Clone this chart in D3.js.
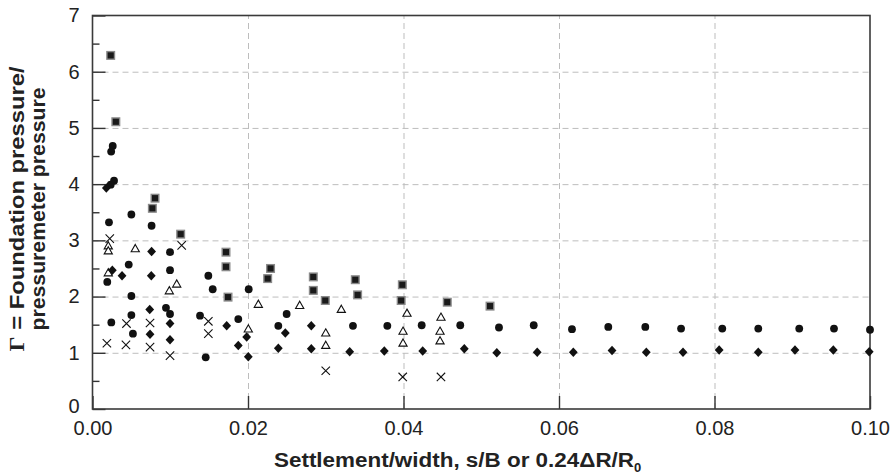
<!DOCTYPE html>
<html>
<head>
<meta charset="utf-8">
<script src="https://cdn.jsdelivr.net/npm/d3@7"></script>
<style>
  html, body { margin: 0; padding: 0; background: #fff; }
  svg { display: block; }
  text { font-family: "Liberation Sans", Arial, Helvetica, sans-serif; fill: #222; }
</style>
</head>
<body>
<svg id="chart" width="894" height="475"></svg>
<script>
// Settlement ratio (s/B) against pressure ratio Γ, one array per data group
const squares = [
  [0.00234, 6.29], [0.0030, 5.11], [0.00804, 3.75], [0.0077, 3.57], [0.01134, 3.11],
  [0.01717, 2.79], [0.01717, 2.53], [0.02253, 2.32], [0.0229, 2.50], [0.01743, 1.99],
  [0.0284, 2.35], [0.0284, 2.11], [0.02994, 1.93], [0.0338, 2.30], [0.0341, 2.03],
  [0.03985, 2.21], [0.0397, 1.93], [0.04563, 1.90], [0.05113, 1.83]
];
const circles = [
  [0.0026, 4.68], [0.0024, 4.58], [0.00277, 4.06], [0.00234, 3.99], [0.00212, 3.32],
  [0.0050, 3.46], [0.0076, 3.26], [0.00997, 2.79], [0.00466, 2.57], [0.00997, 2.47],
  [0.0019, 2.26], [0.0050, 2.01], [0.00945, 1.80], [0.00997, 1.69], [0.0050, 1.67],
  [0.00242, 1.54], [0.0052, 1.34], [0.0149, 2.37], [0.01546, 2.13], [0.02009, 2.13],
  [0.01383, 1.66], [0.01875, 1.60], [0.01456, 0.92], [0.02497, 1.69], [0.0239, 1.48],
  [0.0335, 1.48], [0.03792, 1.48], [0.04234, 1.49], [0.0473, 1.49], [0.05228, 1.45],
  [0.05675, 1.49], [0.06167, 1.42], [0.06634, 1.46], [0.0711, 1.46], [0.0757, 1.43],
  [0.081, 1.43], [0.08563, 1.43], [0.0909, 1.43], [0.09537, 1.43], [0.1, 1.41]
];
const diamonds = [
  [0.00178, 3.93], [0.0076, 2.80], [0.00255, 2.47], [0.0038, 2.37], [0.00756, 2.37],
  [0.00736, 1.77], [0.00997, 1.52], [0.0074, 1.33], [0.00997, 1.23], [0.01726, 1.48],
  [0.01983, 1.28], [0.01875, 1.13], [0.02004, 0.93], [0.0239, 1.08], [0.0248, 1.35],
  [0.02814, 1.48], [0.02814, 1.07], [0.03308, 1.02], [0.03753, 1.03], [0.04247, 1.03],
  [0.04782, 1.07], [0.052, 1.00], [0.0572, 1.01], [0.06184, 1.01], [0.06682, 1.04],
  [0.07123, 1.01], [0.07595, 1.01], [0.0806, 1.05], [0.08563, 1.01], [0.09035, 1.05],
  [0.09528, 1.05], [0.0999, 1.02]
];
const triangles = [
  [0.00203, 2.90], [0.00203, 2.81], [0.0055, 2.85], [0.00203, 2.42], [0.00988, 2.10],
  [0.01083, 2.22], [0.02133, 1.86], [0.02004, 1.42], [0.02665, 1.84], [0.032, 1.77],
  [0.030, 1.35], [0.030, 1.13], [0.04045, 1.70], [0.03994, 1.38], [0.03994, 1.17],
  [0.04482, 1.63], [0.0447, 1.38], [0.0447, 1.21]
];
const crosses = [
  [0.00222, 3.03], [0.01147, 2.91], [0.00437, 1.52], [0.0074, 1.53], [0.0149, 1.56],
  [0.0149, 1.34], [0.00185, 1.17], [0.0043, 1.14], [0.0074, 1.10], [0.00997, 0.95],
  [0.030, 0.68], [0.0399, 0.57], [0.04482, 0.57]
];

const xTicks = [0, 0.02, 0.04, 0.06, 0.08, 0.10];
const yTicks = [0, 1, 2, 3, 4, 5, 6, 7];
const yMinorTicks = [0.5, 1.5, 2.5, 3.5, 4.5, 5.5, 6.5];
const xTitle = "Settlement/width, s/B or 0.24ΔR/R";
const xTitleSub = "0";
const yTitleSymbol = "Γ";
const yTitleLines = [" = Foundation pressure/", "pressuremeter pressure"];

const margin = { left: 92.5, right: 24, top: 15.5, bottom: 66 };
const W = 894, H = 475;
const iw = W - margin.left - margin.right;
const ih = H - margin.top - margin.bottom;

const svg = d3.select("#chart");
const g = svg.append("g").attr("transform", `translate(${margin.left},${margin.top})`);

const x = d3.scaleLinear().domain([0, 0.10]).range([0, iw]);
const y = d3.scaleLinear().domain([0, 7]).range([ih, 0]);

// dashed grid
const gridX = g.append("g").attr("transform", `translate(0,${ih})`)
  .call(d3.axisBottom(x).tickValues(xTicks.slice(1, -1)).tickSize(-ih).tickFormat(""));
const gridY = g.append("g")
  .call(d3.axisLeft(y).tickValues(yTicks.slice(1, -1)).tickSize(-iw).tickFormat(""));
[gridX, gridY].forEach(s => {
  s.select(".domain").remove();
  s.selectAll("line").attr("stroke", "#bdbdbd").attr("stroke-width", 1).attr("stroke-dasharray", "6,4");
});

// axes with inward ticks
const xAxis = g.append("g").attr("transform", `translate(0,${ih})`)
  .call(d3.axisBottom(x).tickValues(xTicks).tickSize(-13).tickPadding(12).tickFormat(d3.format(".2f")));
const yAxis = g.append("g")
  .call(d3.axisLeft(y).tickValues(yTicks).tickSize(-13).tickPadding(13).tickFormat(d3.format("d")));
const yMinor = g.append("g")
  .call(d3.axisLeft(y).tickValues(yMinorTicks).tickSize(-7).tickFormat(""));
[xAxis, yAxis, yMinor].forEach(s => {
  s.select(".domain").remove();
  s.selectAll("line").attr("stroke", "#333").attr("stroke-width", 1.4);
  s.selectAll("text").style("font-size", "20px").attr("fill", "#222");
});
// the zero label sits a touch higher so it clears the x labels below
yAxis.selectAll(".tick").filter(d => d === 0).select("text").attr("dy", "0.18em");

// plot frame
g.append("rect").attr("x", 0).attr("y", 0).attr("width", iw).attr("height", ih)
  .attr("fill", "none").attr("stroke", "#3a3a3a").attr("stroke-width", 1.6);

// marker shapes
function diamondPath(r) {
  const p = d3.path();
  p.moveTo(0, -r * 1.08); p.lineTo(r, 0); p.lineTo(0, r * 1.08); p.lineTo(-r, 0); p.closePath();
  return p.toString();
}
function trianglePath(w) {
  const p = d3.path(), h = w * 0.88;
  p.moveTo(0, -h * 0.6); p.lineTo(w / 2, h * 0.4); p.lineTo(-w / 2, h * 0.4); p.closePath();
  return p.toString();
}
function crossPath(r) {
  const p = d3.path();
  p.moveTo(-r, -r); p.lineTo(r, r); p.moveTo(r, -r); p.lineTo(-r, r);
  return p.toString();
}

const marks = g.append("g");

marks.selectAll(".tri").data(triangles).join("path").attr("class", "tri")
  .attr("d", trianglePath(8.2))
  .attr("transform", d => `translate(${x(d[0])},${y(d[1])})`)
  .attr("fill", "#fff").attr("stroke", "#111").attr("stroke-width", 1.1);

marks.selectAll(".crs").data(crosses).join("path").attr("class", "crs")
  .attr("d", crossPath(4.2))
  .attr("transform", d => `translate(${x(d[0])},${y(d[1])})`)
  .attr("fill", "none").attr("stroke", "#111").attr("stroke-width", 1.1);

marks.selectAll(".sq").data(squares).join("rect").attr("class", "sq")
  .attr("x", d => x(d[0]) - 3.8).attr("y", d => y(d[1]) - 3.8)
  .attr("width", 7.6).attr("height", 7.6)
  .attr("fill", "#1a1a1a").attr("stroke", "#8a8a8a").attr("stroke-width", 1.4);

marks.selectAll(".cir").data(circles).join("circle").attr("class", "cir")
  .attr("cx", d => x(d[0])).attr("cy", d => y(d[1])).attr("r", 3.9)
  .attr("fill", "#111");

marks.selectAll(".dia").data(diamonds).join("path").attr("class", "dia")
  .attr("d", diamondPath(4.4))
  .attr("transform", d => `translate(${x(d[0])},${y(d[1])})`)
  .attr("fill", "#111");

// axis titles
const xt = svg.append("text")
  .attr("x", 274).attr("y", 467)
  .attr("text-anchor", "start")
  .style("font-size", "20px").style("font-weight", "bold");
xt.append("tspan").attr("textLength", 360).attr("lengthAdjust", "spacingAndGlyphs").text(xTitle);
xt.append("tspan").attr("dy", 5).style("font-size", "13px").text(xTitleSub);

const cy = 209;
const yt1 = svg.append("text")
  .attr("transform", `translate(24,${cy}) rotate(-90)`)
  .attr("text-anchor", "middle")
  .attr("textLength", 285).attr("lengthAdjust", "spacingAndGlyphs")
  .style("font-size", "20px").style("font-weight", "bold");
yt1.append("tspan").style("font-family", "'Liberation Serif', 'Times New Roman', serif").text(yTitleSymbol);
yt1.append("tspan").text(yTitleLines[0]);
svg.append("text")
  .attr("transform", `translate(45,${cy}) rotate(-90)`)
  .attr("text-anchor", "middle")
  .attr("textLength", 243).attr("lengthAdjust", "spacingAndGlyphs")
  .style("font-size", "20px").style("font-weight", "bold")
  .text(yTitleLines[1]);
</script>
</body>
</html>
